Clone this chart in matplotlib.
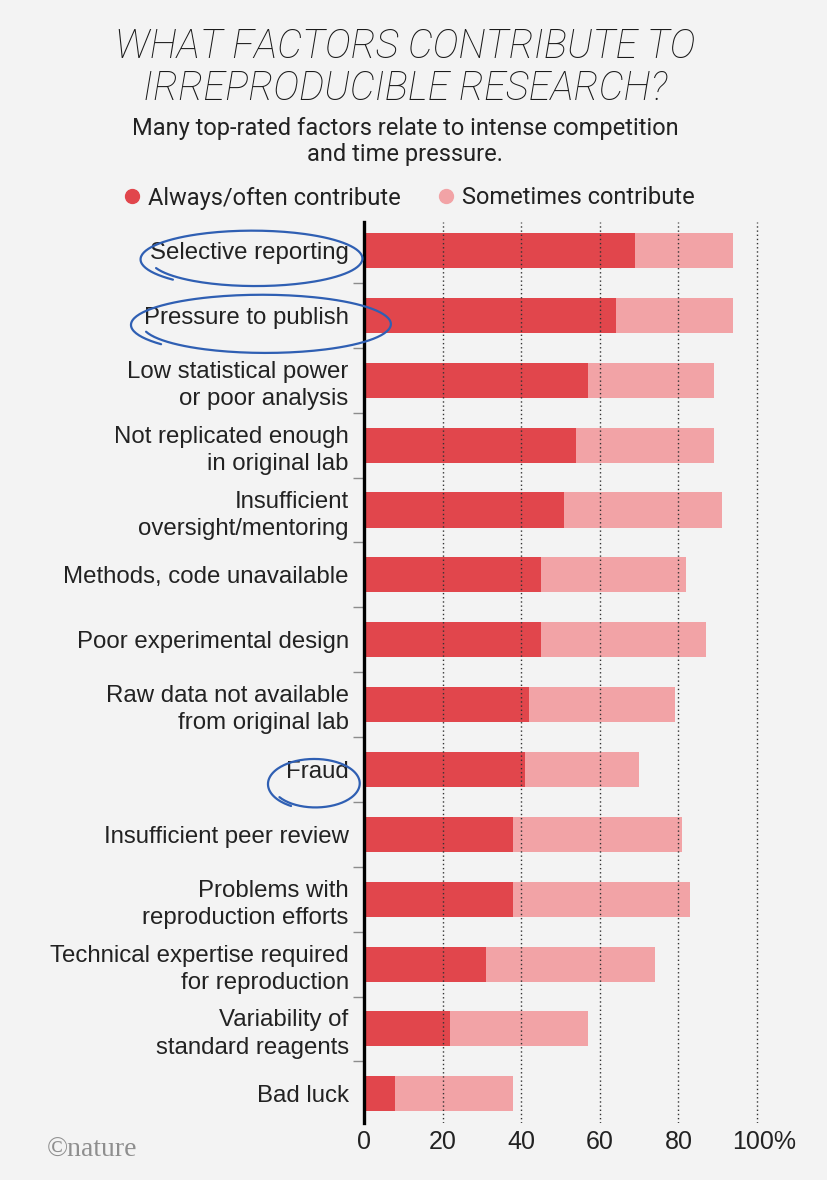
import matplotlib.pyplot as plt
import numpy as np
from matplotlib.lines import Line2D
from matplotlib.ticker import FixedLocator
from matplotlib.transforms import ScaledTranslation

# survey answers, % of respondents
factors = [
    "Selective reporting",
    "Pressure to publish",
    "Low statistical power\nor poor analysis",
    "Not replicated enough\nin original lab",
    "Insufficient\noversight/mentoring",
    "Methods, code unavailable",
    "Poor experimental design",
    "Raw data not available\nfrom original lab",
    "Fraud",
    "Insufficient peer review",
    "Problems with\nreproduction efforts",
    "Technical expertise required\nfor reproduction",
    "Variability of\nstandard reagents",
    "Bad luck",
]
always_often = [69, 64, 57, 54, 51, 45, 45, 42, 41, 38, 38, 31, 22, 8]
sometimes = [25, 30, 32, 35, 40, 37, 42, 37, 29, 43, 45, 43, 35, 30]
xticks = [0, 20, 40, 60, 80, 100]
xtick_labels = ["0", "20", "40", "60", "80", "100%"]

# hand-drawn blue circles somebody added: label -> (centre dx, centre dy, rx, ry, start angle)
circled = {
    "Selective reporting": (-28, 0.13, 26.5, 0.41, 200),
    "Pressure to publish": (-25.5, 0.14, 31.0, 0.43, 195),
    "Fraud": (-12.5, 0.22, 11.0, 0.36, 215),
}

DARK = "#e1464c"
LIGHT = "#f2a3a6"
BG = "#f3f3f3"
TEXT = "#222222"
LABEL_FONT = ["Liberation Sans", "DejaVu Sans"]
HEAD_FONT = ["Roboto", "DejaVu Sans"]

fig = plt.figure(figsize=(8.28, 11.8), dpi=100, facecolor=BG)
ax = fig.add_axes([364 / 828, 1 - 1123 / 1180, 397 / 828, (1123 - 222) / 1180])
ax.set_facecolor(BG)

y = np.arange(len(factors))
ax.barh(y, always_often, height=0.54, color=DARK, zorder=2)
ax.barh(y, sometimes, left=always_often, height=0.54, color=LIGHT, zorder=2)

ax.set_xlim(0, 101)
ax.set_ylim(len(factors) - 0.55, -0.44)

# axis styling
for side in ["top", "right", "bottom"]:
    ax.spines[side].set_visible(False)
ax.spines["left"].set_linewidth(2.4)
ax.spines["left"].set_color("black")
ax.spines["left"].set_zorder(4)

ax.set_xticks(xticks)
ax.set_xticklabels(xtick_labels, fontsize=18, color=TEXT, family=LABEL_FONT)
ax.tick_params(axis="x", length=0, pad=5)
last = ax.get_xticklabels()[-1]
last.set_transform(last.get_transform() + ScaledTranslation(0.07, 0, fig.dpi_scale_trans))

ax.set_yticks(y)
ax.set_yticklabels(factors, fontsize=17.3, color=TEXT, family=LABEL_FONT, linespacing=1.3)
ax.tick_params(axis="y", which="major", length=0, pad=11)
ax.yaxis.set_minor_locator(FixedLocator(y[:-1] + 0.5))
ax.tick_params(axis="y", which="minor", length=8, width=1, color="#8c8c8c")

# dotted guides on top of the bars
for xv in xticks[1:]:
    ax.axvline(xv, color="#333333", lw=1.0, ls=(0, (1, 2)), zorder=3)

# blue pen circles around some labels
for name, (dx, dy, rx, ry, a0) in circled.items():
    i = factors.index(name)
    t = np.radians(np.linspace(a0, a0 + 385, 200))
    grow = np.linspace(1.0, 1.1, t.size)
    xs = dx + rx * grow * np.cos(t)
    ys = i + dy - ry * grow * np.sin(t)
    ax.plot(xs, ys, color="#2f5fb3", lw=1.6, clip_on=False, zorder=5,
            solid_capstyle="round")

# titles
fig.text(0.489, 1 - 47 / 1180, "WHAT FACTORS CONTRIBUTE TO", ha="center", va="center",
         fontsize=28.5, style="italic", weight="light", family=HEAD_FONT, color="#1a1a1a")
fig.text(0.489, 1 - 89 / 1180, "IRREPRODUCIBLE RESEARCH?", ha="center", va="center",
         fontsize=28.5, style="italic", weight="light", family=HEAD_FONT, color="#1a1a1a")
fig.text(0.489, 1 - 128 / 1180, "Many top-rated factors relate to intense competition",
         ha="center", va="center", fontsize=17, family=HEAD_FONT, color=TEXT)
fig.text(0.489, 1 - 154 / 1180, "and time pressure.",
         ha="center", va="center", fontsize=17, family=HEAD_FONT, color=TEXT)

handles = [
    Line2D([], [], ls="none", marker="o", markersize=10, color=DARK),
    Line2D([], [], ls="none", marker="o", markersize=10, color=LIGHT),
]
fig.legend(handles, ["Always/often contribute", "Sometimes contribute"],
           loc="center", bbox_to_anchor=(0.492, 1 - 198 / 1180), ncol=2, frameon=False,
           prop={"family": HEAD_FONT, "size": 17}, handletextpad=0.2,
           columnspacing=1.4, handlelength=1.0, labelcolor=TEXT)

fig.text(47 / 828, 1 - 1150 / 1180, "©nature", ha="left", va="center", fontsize=20,
         family=["Liberation Serif", "DejaVu Serif"], color="#8e8e8e")

plt.savefig("out.png", dpi=100, facecolor=BG)
